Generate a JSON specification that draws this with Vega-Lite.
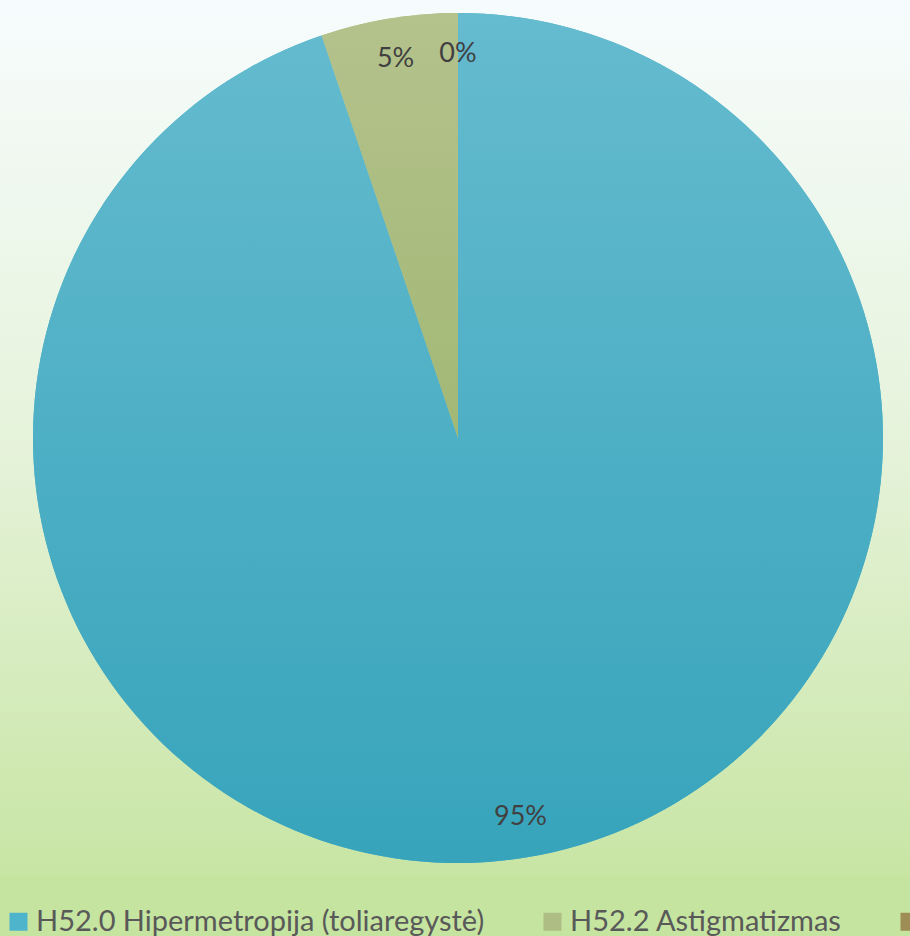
{
  "$schema": "https://vega.github.io/schema/vega-lite/v6.json",
  "width": 916,
  "height": 876,
  "padding": 0,
  "autosize": {"type": "pad"},
  "background": "#c5e4a0",
  "config": {
    "view": {"stroke": null},
    "font": "Lato"
  },
  "layer": [
    {
      "data": {"values": [{"bg": 1}]},
      "mark": {
        "type": "rect",
        "fill": {
          "gradient": "linear", "x1": 0, "y1": 0, "x2": 0, "y2": 1,
          "stops": [
            {"offset": 0, "color": "#f6fcfd"},
            {"offset": 0.5, "color": "#e6f3db"},
            {"offset": 1, "color": "#c8e5a4"}
          ]
        }
      },
      "encoding": {}
    },
    {
      "data": {"name": "pie"},
      "layer": [
        {
          "mark": {"type": "arc", "outerRadius": 425},
          "encoding": {
            "theta": {"field": "v0", "type": "quantitative", "scale": {"domain": [0, 100]}},
            "theta2": {"field": "v1"},
            "color": {
              "field": "category",
              "type": "nominal",
              "sort": ["H52.0 Hipermetropija (toliaregystė)", "H52.2 Astigmatizmas", "H52.1 Miopija (trumparegystė)"],
              "scale": {
                "domain": ["H52.0 Hipermetropija (toliaregystė)", "H52.2 Astigmatizmas", "H52.1 Miopija (trumparegystė)"],
                "range": ["#4db4cb", "#adbd84", "#9e8d55"]
              },
              "legend": {
                "orient": "bottom",
                "direction": "horizontal",
                "title": null,
                "padding": 4,
                "symbolType": "square",
                "symbolSize": 324,
                "symbolStrokeWidth": 0,
                "labelFont": "Lato",
                "labelFontSize": 29,
                "labelColor": "#595959",
                "labelLimit": 0,
                "columnPadding": 53,
                "labelOffset": 3,
                "offset": 27
              }
            }
          }
        },
        {
          "transform": [{"filter": "datum.order == 1"}],
          "mark": {
            "type": "arc", "outerRadius": 425,
            "fill": {
              "gradient": "linear", "x1": 0, "y1": 0, "x2": 0, "y2": 1,
              "stops": [
                {"offset": 0, "color": "#65bbcf"},
                {"offset": 1, "color": "#37a4bb"}
              ]
            }
          },
          "encoding": {
            "theta": {"field": "v0", "type": "quantitative", "scale": {"domain": [0, 100]}},
            "theta2": {"field": "v1"}
          }
        },
        {
          "transform": [{"filter": "datum.order == 2"}],
          "mark": {
            "type": "arc", "outerRadius": 425,
            "fill": {
              "gradient": "linear", "x1": 0, "y1": 0, "x2": 0, "y2": 1,
              "stops": [
                {"offset": 0, "color": "#b4c28c"},
                {"offset": 1, "color": "#a2b875"}
              ]
            }
          },
          "encoding": {
            "theta": {"field": "v0", "type": "quantitative", "scale": {"domain": [0, 100]}},
            "theta2": {"field": "v1"}
          }
        },
        {
          "mark": {"type": "text", "radius": 384, "fontSize": 27, "font": "Lato", "color": "#404040"},
          "encoding": {
            "theta": {"field": "vmid", "type": "quantitative", "scale": {"domain": [0, 100]}},
            "text": {"field": "label"}
          }
        }
      ],
      "transform": [
        {"stack": "value", "groupby": [], "sort": [{"field": "order"}], "as": ["v0", "v1"]},
        {"calculate": "(datum.v0 + datum.v1) / 2", "as": "vmid"}
      ]
    }
  ],
  "datasets": {
    "pie": [
      {"category": "H52.0 Hipermetropija (toliaregystė)", "value": 94.8, "label": "95%", "order": 1},
      {"category": "H52.2 Astigmatizmas", "value": 5.2, "label": "5%", "order": 2},
      {"category": "H52.1 Miopija (trumparegystė)", "value": 0, "label": "0%", "order": 3}
    ]
  }
}
